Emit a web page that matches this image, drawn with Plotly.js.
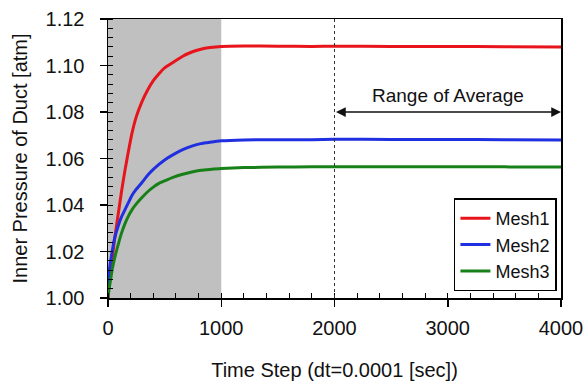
<!DOCTYPE html>
<html><head><meta charset="utf-8">
<script src="https://cdn.plot.ly/plotly-3.0.1.min.js"></script>
<style>html,body{margin:0;padding:0;background:#fff}</style>
</head><body><div id="chart" style="width:585px;height:385px"></div>
<script>
const timeSteps = [0,10,20,40,60,90,120,150,180,210,250,300,350,400,450,500,580,660,740,820,900,1000,1200,1500,1800,2000,2500,3000,3500,4000];
const mesh1 = [1.000,1.007,1.012,1.018,1.026,1.036,1.046,1.055,1.063,1.0705,1.078,1.0845,1.0895,1.0935,1.0965,1.0990,1.1015,1.104,1.1058,1.107,1.1077,1.1082,1.1084,1.1083,1.1082,1.1083,1.1082,1.1082,1.1081,1.1080];
const mesh2 = [1.006,1.011,1.015,1.021,1.026,1.031,1.035,1.038,1.041,1.0440,1.0468,1.0497,1.0528,1.0553,1.0575,1.0594,1.0618,1.0638,1.0653,1.0664,1.0670,1.0676,1.0680,1.0681,1.0681,1.0683,1.0682,1.0682,1.0681,1.0680];
const mesh3 = [1.000,1.004,1.007,1.013,1.0175,1.023,1.028,1.0320,1.0352,1.0378,1.0405,1.0432,1.0457,1.0477,1.0493,1.0504,1.0520,1.0532,1.0542,1.0549,1.0553,1.0557,1.0561,1.0563,1.0564,1.0565,1.0565,1.0565,1.0564,1.0563];
const seriesNames = ['Mesh1','Mesh2','Mesh3'];
const xTicks = [0,1000,2000,3000,4000];
const yTicks = [1.00,1.02,1.04,1.06,1.08,1.10,1.12];
const shadeRange = [0,1000];
const avgRange = [2000,4000];
const arrowY = 1.08;
const avgLabel = 'Range of Average';

const colors = ['#e8141c','#2030e0','#188018'];
const font = 'Liberation Sans, Arial, sans-serif';
const traces = [mesh1,mesh2,mesh3].map((ys,i)=>({
  x: timeSteps, y: ys, type:'scatter', mode:'lines', name: seriesNames[i],
  line:{color:colors[i], width:3, shape:'spline', smoothing:0.5}
}));
const layout = {
  width:585, height:385,
  margin:{l:108, r:24, t:19, b:87},
  paper_bgcolor:'#fff', plot_bgcolor:'#fff',
  font:{family:font, size:20, color:'#111'},
  showlegend:true,
  legend:{x:0.991, xanchor:'right', y:0.19, yanchor:'middle', bgcolor:'#fff',
    bordercolor:'#000', borderwidth:1.5, font:{family:font, size:18, color:'#111'}},
  xaxis:{range:[0,4000], tickvals:xTicks, ticktext:xTicks.map(String),
    showgrid:false, zeroline:false, showline:true, linecolor:'#000', linewidth:1.5, mirror:true,
    ticks:'outside', ticklen:7, tickcolor:'#000', tickwidth:1.5, ticklabelstandoff:4,
    tickfont:{family:font, size:20, color:'#111'},
    minor:{dtick:200, ticks:'inside', ticklen:5, tickcolor:'#000', tickwidth:1, showgrid:false},
    title:{text:'Time Step (dt=0.0001 [sec])', font:{family:font,size:20,color:'#111'}, standoff:25}},
  yaxis:{range:[1.00,1.12], tickvals:yTicks, ticktext:yTicks.map(v=>v.toFixed(2)),
    showgrid:false, zeroline:false, showline:true, linecolor:'#000', linewidth:1.5, mirror:true,
    ticks:'outside', ticklen:7, tickcolor:'#000', tickwidth:1.5, ticklabelstandoff:11,
    tickfont:{family:font, size:20, color:'#111'},
    minor:{dtick:0.004, ticks:'inside', ticklen:5, tickcolor:'#000', tickwidth:1, showgrid:false},
    title:{text:'Inner Pressure of Duct [atm]', font:{family:font,size:20,color:'#111'}, standoff:12}},
  shapes:[
    {type:'rect', xref:'x', yref:'paper', x0:shadeRange[0], x1:shadeRange[1], y0:0, y1:1,
     fillcolor:'#c0c0c0', line:{width:0}, layer:'below'},
    {type:'line', xref:'x', yref:'paper', x0:avgRange[0], x1:avgRange[0], y0:0, y1:1,
     line:{color:'#333', width:1, dash:'3px,3px'}}
  ],
  annotations:[
    {x:avgRange[1], y:arrowY, ax:avgRange[0], ay:arrowY, xref:'x', yref:'y', axref:'x', ayref:'y',
     text:'', showarrow:true, arrowhead:2, startarrowhead:2, arrowside:'end+start', arrowsize:1.3, startarrowsize:1.3,
     arrowwidth:1.5, arrowcolor:'#111', standoff:0, startstandoff:0},
    {x:(avgRange[0]+avgRange[1])/2, y:arrowY, xref:'x', yref:'y', yanchor:'bottom', yshift:4,
     text:avgLabel, showarrow:false, font:{family:font, size:19, color:'#111'}}
  ]
};
Plotly.newPlot('chart', traces, layout, {displayModeBar:false, staticPlot:true});
</script></body></html>
